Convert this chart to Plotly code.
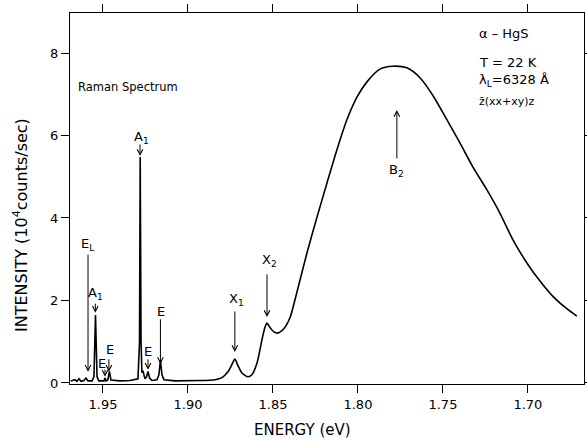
import plotly.graph_objects as go

# Raman / photoluminescence spectrum of alpha-HgS at 22 K.
# Sharp Raman lines region (drawn with straight segments)
raman_energy = [
    1.9690, 1.9665, 1.9653, 1.9641, 1.9629, 1.9612, 1.9600, 1.9588,
    1.9565, 1.9553, 1.9544, 1.9535, 1.9524, 1.9494, 1.9488, 1.9482,
    1.9471, 1.9462, 1.9453, 1.9400, 1.9341, 1.9294, 1.9285, 1.9281,
    1.9276, 1.9271, 1.9265, 1.9253, 1.9244, 1.9235, 1.9226, 1.9212,
    1.9182, 1.9171, 1.9162, 1.9153, 1.9141, 1.9076, 1.8929,
]
raman_intensity = [
    0.05, 0.08, 0.04, 0.10, 0.04, 0.06, 0.12, 0.05,
    0.05, 0.15, 1.65, 0.15, 0.05, 0.05, 0.12, 0.05,
    0.08, 0.28, 0.07, 0.05, 0.06, 0.10, 1.00, 5.48,
    1.00, 0.25, 0.30, 0.10, 0.15, 0.28, 0.12, 0.06,
    0.08, 0.20, 0.55, 0.20, 0.08, 0.05, 0.06,
]

# Exciton lines and broad B2 luminescence band (smooth curve)
band_energy = [
    1.8929, 1.8841, 1.8800, 1.8765, 1.8741, 1.8724, 1.8706, 1.8682,
    1.8647, 1.8624, 1.8594, 1.8565, 1.8547, 1.8535, 1.8518, 1.8494,
    1.8471, 1.8435, 1.8400, 1.8359, 1.8300, 1.8241, 1.8182, 1.8124,
    1.8065, 1.8006, 1.7947, 1.7871, 1.7794, 1.7712, 1.7635, 1.7559,
    1.7476, 1.7400, 1.7324, 1.7241, 1.7165, 1.7088, 1.7006, 1.6929,
    1.6853, 1.6771, 1.6712,
]
band_intensity = [
    0.06, 0.08, 0.13, 0.27, 0.45, 0.58, 0.42, 0.24,
    0.15, 0.20, 0.48, 1.04, 1.35, 1.45, 1.35, 1.24,
    1.21, 1.32, 1.58, 2.20, 3.15, 4.02, 4.85, 5.65,
    6.38, 6.93, 7.30, 7.61, 7.68, 7.64, 7.40, 6.97,
    6.38, 5.82, 5.24, 4.68, 4.12, 3.47, 2.91, 2.47,
    2.10, 1.80, 1.62,
]

x_ticks = [1.95, 1.90, 1.85, 1.80, 1.75, 1.70]
x_tick_text = ["1.95", "1.90", "1.85", "1.80", "1.75", "1.70"]
y_ticks = [0, 2, 4, 6, 8]
y_tick_text = ["0", "2", "4", "6", "8"]

# Peak labels: text, label centre, arrow x, arrow tail y, arrow head y
peak_labels = ["E<sub>L</sub>", "A<sub>1</sub>", "E", "E", "A<sub>1</sub>",
               "E", "E", "X<sub>1</sub>", "X<sub>2</sub>"]
label_x = [1.9588, 1.9545, 1.9506, 1.9459, 1.9276, 1.9235, 1.9159, 1.8713, 1.8523]
label_y = [3.35, 2.18, 0.48, 0.80, 5.96, 0.76, 1.73, 2.02, 2.98]
arrow_x = [1.9588, 1.9545, 1.9488, 1.9465, 1.9282, 1.9235, 1.9162, 1.8724, 1.8535]
arrow_tail_y = [3.15, 1.96, 0.36, 0.61, 5.82, 0.61, 1.58, 1.77, 2.67]
arrow_head_y = [0.27, 1.70, 0.15, 0.27, 5.50, 0.32, 0.46, 0.75, 1.60]

FONT = "DejaVu Sans"
X_RANGE = [1.9694, 1.667]
Y_RANGE = [-0.025, 8.97]


def px_to_val(py):
    """Vertical pixel row inside the frame -> intensity units."""
    return Y_RANGE[1] - (py - 13) / 41.25


fig = go.Figure()
fig.add_trace(go.Scatter(
    x=raman_energy, y=raman_intensity, mode="lines",
    line=dict(color="black", width=1.6),
    hoverinfo="skip", showlegend=False,
))
fig.add_trace(go.Scatter(
    x=band_energy, y=band_intensity, mode="lines",
    line=dict(color="black", width=1.6, shape="spline", smoothing=0.7),
    hoverinfo="skip", showlegend=False,
))

annotations = []
for txt, tx, ty, axx, ty0, ty1 in zip(peak_labels, label_x, label_y,
                                      arrow_x, arrow_tail_y, arrow_head_y):
    annotations.append(dict(
        x=tx, y=ty, xref="x", yref="y", text=txt, showarrow=False,
        font=dict(family=FONT, size=13, color="black"),
        xanchor="center", yanchor="middle",
    ))
    annotations.append(dict(
        x=axx, y=ty1, ax=axx, ay=ty0, xref="x", yref="y",
        axref="x", ayref="y", text="", showarrow=True,
        arrowhead=5, arrowsize=1.1, arrowwidth=1, arrowcolor="black",
    ))

# B2 marker: upward arrow under the broad band
annotations.append(dict(
    x=1.7771, y=6.62, ax=1.7771, ay=5.41, xref="x", yref="y",
    axref="x", ayref="y", text="", showarrow=True,
    arrowhead=5, arrowsize=1.1, arrowwidth=1, arrowcolor="black",
))
annotations.append(dict(
    x=1.7771, y=5.15, xref="x", yref="y", text="B<sub>2</sub>",
    showarrow=False, font=dict(family=FONT, size=13, color="black"),
    xanchor="center", yanchor="middle",
))

annotations.append(dict(
    x=1.9353, y=px_to_val(87), xref="x", yref="y", text="Raman Spectrum",
    showarrow=False, font=dict(family=FONT, size=11.5, color="black"),
    xanchor="center", yanchor="middle",
))

info_lines = ["α – HgS", "T = 22 K", "λ<sub>L</sub>=6328 Å", "z̄(xx+xy)z"]
info_py = [33, 63, 81, 102]
info_size = [13, 13, 13, 11]
for line, py, fs in zip(info_lines, info_py, info_size):
    annotations.append(dict(
        x=1.7300, y=px_to_val(py), xref="x", yref="y",
        text=line, showarrow=False, xanchor="left", yanchor="middle",
        font=dict(family=FONT, size=fs, color="black"),
    ))

# Axis titles
annotations.append(dict(
    x=(302 - 70) / 514, y=(384 - 430) / 371, xref="paper", yref="paper",
    text="ENERGY (eV)", showarrow=False, xanchor="center", yanchor="middle",
    font=dict(family=FONT, size=15, color="black"),
))
annotations.append(dict(
    x=(20 - 70) / 514, y=(384 - 225) / 371, xref="paper", yref="paper",
    text="INTENSITY (10<sup>4</sup>counts/sec)", textangle=-90,
    showarrow=False, xanchor="center", yanchor="middle",
    font=dict(family=FONT, size=16, color="black"),
))

fig.update_layout(
    width=587, height=440,
    margin=dict(l=70, r=3, t=13, b=56, autoexpand=False),
    paper_bgcolor="white", plot_bgcolor="white",
    font=dict(family=FONT, color="black"),
    annotations=annotations,
    xaxis=dict(
        range=X_RANGE, tickvals=x_ticks, ticktext=x_tick_text,
        ticks="outside", ticklen=8, tickwidth=1.2, tickcolor="black",
        showline=True, linecolor="black", linewidth=1.2, mirror="ticks",
        showgrid=False, zeroline=False, automargin=False,
        tickfont=dict(family=FONT, size=13),
    ),
    yaxis=dict(
        range=Y_RANGE, tickvals=y_ticks, ticktext=y_tick_text,
        ticks="outside", ticklen=8, tickwidth=1.2, tickcolor="black",
        showline=True, linecolor="black", linewidth=1.2, mirror="ticks",
        showgrid=False, zeroline=False, automargin=False,
        tickfont=dict(family=FONT, size=13),
    ),
)

fig.write_html("out.html")
